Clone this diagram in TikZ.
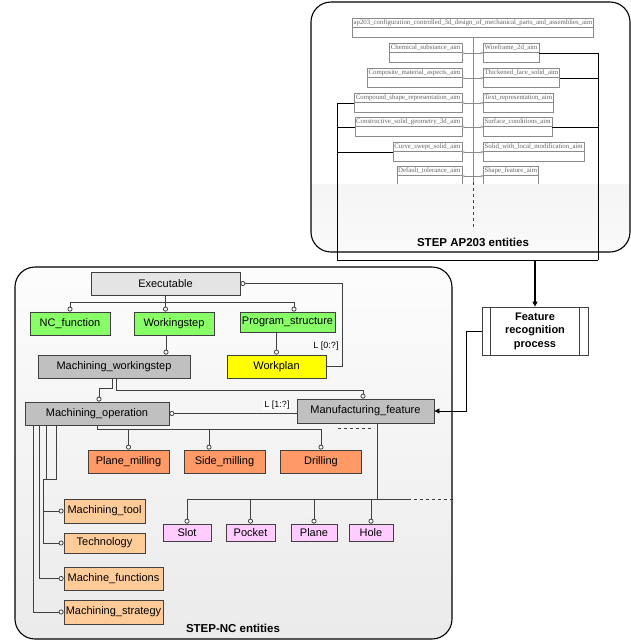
\documentclass[tikz,border=0pt]{standalone}
\usepackage{fontspec}
\setmainfont{Liberation Sans}
\newfontfamily\apfont{Liberation Serif}
\usetikzlibrary{arrows.meta,shapes.multipart}
\definecolor{edgegray}{HTML}{404040}
\definecolor{execgray}{HTML}{E4E4E4}
\definecolor{opgray}{HTML}{C0C0C0}
\definecolor{stepgreen}{HTML}{88FF66}
\definecolor{planyellow}{HTML}{FFFF00}
\definecolor{millorange}{HTML}{FF9966}
\definecolor{toolorange}{HTML}{FFCC99}
\definecolor{featpink}{HTML}{FFCCFF}
\definecolor{apgray}{HTML}{8A8A8A}

\begin{document}
\begin{tikzpicture}
    [
      x=1pt,
      y=-1pt,
      entity/.style=
      {
        draw=edgegray,
        line width=0.8pt,
        inner sep=0pt,
        minimum height=23pt,
        text=black,
        font=\fontsize{11}{13}\selectfont
      },
      feat/.style=
      {
        entity,
        minimum height=17pt,
        fill=featpink
      },
      apbox/.style=
      {
        rectangle split,
        rectangle split parts=2,
        rectangle split empty part height=7pt,
        draw=apgray,
        line width=0.5pt,
        inner sep=1.3pt,
        text=black!60,
        font=\apfont\fontsize{6.8}{7.5}\selectfont
      },
      panel/.style=
      {
        draw=black,
        line width=1.1pt,
        rounded corners=20pt
      },
      title/.style=
      {
        font=\fontsize{11.5}{13}\selectfont\bfseries
      },
      mult/.style=
      {
        inner sep=1pt,
        font=\fontsize{9}{10}\selectfont
      },
      line/.style={draw=edgegray, line width=0.8pt},
      link/.style={line, -{Circle[length=5pt,fill=white]}},
      aplink/.style=
      {
        draw=apgray,
        line width=0.4pt,
        {Circle[length=2.5pt,fill=white]}-{Circle[length=2.5pt,fill=white]}
      },
      bus/.style={draw=black, line width=0.8pt},
      feed/.style={draw=black, line width=0.8pt, -{Triangle[length=5pt,width=5pt]}}
    ]
    \useasboundingbox (0,0) rectangle (631,641);

    % STEP AP203 side
    \fill[white] (311,2) rectangle (630,252);
    \node[apbox](ConfigControlled) at (473,27.5)
      {ap203\_configuration\_controlled\_3d\_design\_of\_mechanical\_parts\_and\_assemblies\_aim};
    \node[apbox, anchor=east](ChemicalSubstance) at (462,53) {Chemical\_substance\_aim};
    \node[apbox, anchor=east](CompositeMaterial) at (462,78) {Composite\_material\_aspects\_aim};
    \node[apbox, anchor=east](CompoundShape) at (462,103) {Compound\_shape\_representation\_aim};
    \node[apbox, anchor=east](ConstructiveSolid) at (462,127) {Constructive\_solid\_geometry\_3d\_aim};
    \node[apbox, anchor=east](CurveSwept) at (462,152) {Curve\_swept\_solid\_aim};
    \node[apbox, anchor=east](DefaultTolerance) at (462,176) {Default\_tolerance\_aim};
    \node[apbox, anchor=west](Wireframe) at (483,53) {Wireframe\_2d\_aim};
    \node[apbox, anchor=west](ThickenedFace) at (483,78) {Thickened\_face\_solid\_aim};
    \node[apbox, anchor=west](TextRepresentation) at (483,103) {Text\_representation\_aim};
    \node[apbox, anchor=west](SurfaceConditions) at (483,127) {Surface\_conditions\_aim};
    \node[apbox, anchor=west](SolidLocal) at (483,152) {Solid\_with\_local\_modification\_aim};
    \node[apbox, anchor=west](ShapeFeature) at (483,176) {Shape\_feature\_aim};

    \draw[draw=apgray, line width=0.4pt] (ConfigControlled.south) -- ++(0,145);
    \draw[aplink] (ChemicalSubstance.east) -- (Wireframe.west);
    \draw[aplink] (CompositeMaterial.east) -- (ThickenedFace.west);
    \draw[aplink] (CompoundShape.east) -- (TextRepresentation.west);
    \draw[aplink] (ConstructiveSolid.east) -- (SurfaceConditions.west);
    \draw[aplink] (CurveSwept.east) -- (SolidLocal.west);
    \draw[aplink] (DefaultTolerance.east) -- (ShapeFeature.west);

    % faded lower band
    \begin{scope}
      \clip[rounded corners=20pt] (311,2) rectangle (630,252);
      \shade[top color=black!4, bottom color=black!2] (311,184) rectangle (630,252);
    \end{scope}
    \draw[edgegray, line width=0.8pt, dashed] (ConfigControlled.south) ++(0,145) -- ++(0,45);
    \draw[panel] (311,2) rectangle (630,252);
    \node[title](ApTitle) at (473,242) {STEP AP203 entities};

    \coordinate (BusLeft) at (337,260);
    \coordinate (BusRight) at (598,260);
    \draw[bus] (CompoundShape.west) -| (BusLeft);
    \draw[bus] (ConstructiveSolid.west) -| (BusLeft);
    \draw[bus] (CurveSwept.west) -| (BusLeft);
    \draw[bus] (Wireframe.east) -| (BusRight);
    \draw[bus] (ThickenedFace.east) -| (BusRight);
    \draw[bus] (SurfaceConditions.east) -| (BusRight);
    \draw[bus] (BusLeft) -- (BusRight);

    % feature recognition
    \node[entity, minimum width=106pt, minimum height=48pt, align=center,
          font=\fontsize{11}{13.5}\selectfont\bfseries](Feature) at (535,331)
      {Feature\\recognition\\process};
    \draw[line] ([xshift=9pt]Feature.north west) -- ([xshift=9pt]Feature.south west);
    \draw[line] ([xshift=-9pt]Feature.north east) -- ([xshift=-9pt]Feature.south east);
    \draw[feed, line width=1.4pt] (BusLeft -| Feature.north) -- (Feature.north);

    % STEP-NC side
    \draw[panel, top color=black!1, bottom color=black!8] (15,267) rectangle (452,639);
    \node[title](NcTitle) at (233,628) {STEP-NC entities};

    \node[entity, fill=execgray, minimum width=149pt](Executable) at (165.5,283.5) {Executable};
    \node[entity, fill=stepgreen, minimum width=80pt](NcFunction) at (70,323.5) {NC\_function};
    \node[entity, fill=stepgreen, minimum width=80pt](Workingstep) at (174,323.5) {Workingstep};
    \node[entity, fill=stepgreen, minimum width=95pt, minimum height=20pt](ProgramStructure) at (287.5,322) {Program\_structure};
    \node[entity, fill=opgray, minimum width=152pt](MachiningWorkingstep) at (114,366.5) {Machining\_workingstep};
    \node[entity, fill=planyellow, minimum width=99pt](Workplan) at (276.5,366.5) {Workplan};
    \node[entity, fill=opgray, minimum width=144pt](MachiningOperation) at (97,413.5) {Machining\_operation};
    \node[entity, fill=opgray, minimum width=137pt, minimum height=24pt](ManufacturingFeature) at (365.5,411) {Manufacturing\_feature};

    \node[entity, fill=millorange, minimum width=81pt](PlaneMilling) at (128.5,461.5) {Plane\_milling};
    \node[entity, fill=millorange, minimum width=81pt](SideMilling) at (224.5,461.5) {Side\_milling};
    \node[entity, fill=millorange, minimum width=81pt](Drilling) at (321,461.5) {Drilling};

    \node[feat, minimum width=48pt](Slot) at (187,532.5) {Slot};
    \node[feat, minimum width=49pt](Pocket) at (250.5,532.5) {Pocket};
    \node[feat, minimum width=46pt](Plane) at (314,532.5) {Plane};
    \node[feat, minimum width=44pt](Hole) at (371,532.5) {Hole};

    \node[entity, fill=toolorange, minimum width=81pt, minimum height=24pt](MachiningTool) at (104.5,511) {Machining\_tool};
    \node[entity, fill=toolorange, minimum width=81pt, minimum height=20pt, below of=MachiningTool, node distance=32pt](Technology) {Technology};
    \node[entity, fill=toolorange, minimum width=99pt](MachineFunctions) at (113.5,578.5) {Machine\_functions};
    \node[entity, fill=toolorange, minimum width=99pt, minimum height=24pt, below of=MachineFunctions, node distance=33.5pt](MachiningStrategy) {Machining\_strategy};

    % links
    \draw[link] (Executable.south) -- ++(0,7) -| (NcFunction.north);
    \draw[link] (Executable.south) -- (Executable.south |- Workingstep.north);
    \draw[link] (Executable.south) -- ++(0,7) -| ([xshift=6.5pt]ProgramStructure.north);
    \draw[link] (Workplan.east) -- ++(16,0) |- (Executable.east);
    \node[mult](WorkplanCount) at (326,346) {L [0:?]};
    \draw[link] ([xshift=-8pt]Workingstep.south) -- ([xshift=52pt]MachiningWorkingstep.north);
    \draw[link] (Workplan.north |- ProgramStructure.south) -- (Workplan.north);
    \draw[link] ([xshift=-2pt]MachiningWorkingstep.south) -- ++(0,10) -| ([xshift=2pt]MachiningOperation.north);
    \draw[link] ([xshift=2pt]MachiningWorkingstep.south) -- ++(0,12) -| ([xshift=-2.5pt]ManufacturingFeature.north);
    \draw[link] (ManufacturingFeature.west |- MachiningOperation.east) -- (MachiningOperation.east);
    \node[mult, fill=white](FeatureCount) at (277,405) {L [1:?]};

    \draw[link] (MachiningOperation.south) -- ++(0,4) -| (PlaneMilling.north);
    \draw[link] (MachiningOperation.south) -- ++(0,4) -| ([xshift=-15.5pt]SideMilling.north);
    \draw[link] (MachiningOperation.south) -- ++(0,4) -| (Drilling.north);
    \draw[line, dashed] ([xshift=17pt,yshift=21pt]Drilling.north) -- ++(36,0);

    \draw[link] ([xshift=11.5pt]ManufacturingFeature.south) -- ++(0,76) -| (Slot.north);
    \draw[link] ([xshift=11.5pt]ManufacturingFeature.south) -- ++(0,76) -| (Pocket.north);
    \draw[link] ([xshift=11.5pt]ManufacturingFeature.south) -- ++(0,76) -| (Plane.north);
    \draw[link] ([xshift=11.5pt]ManufacturingFeature.south) -- ++(0,76) -| (Hole.north);
    \draw[line] ([xshift=11.5pt]ManufacturingFeature.south) ++(0,76) -- ++(31,0) coordinate (FeatureBusEnd);
    \draw[line, dashed] (FeatureBusEnd) -- ++(45,0);

    \draw[link] ([xshift=32pt]MachiningOperation.south west) -- ++(0,54) -- ++(-13,0) |- (MachiningTool.west);
    \draw[link] ([xshift=22pt]MachiningOperation.south west) -- ++(0,54) -- ++(-3,0) |- (Technology.west);
    \draw[link] ([xshift=15pt]MachiningOperation.south west) |- (MachineFunctions.west);
    \draw[link] ([xshift=9pt]MachiningOperation.south west) |- (MachiningStrategy.west);

    \draw[feed] (Feature.west) -- ++(-15,0) |- (ManufacturingFeature.east);
  \end{tikzpicture}
\end{document}
